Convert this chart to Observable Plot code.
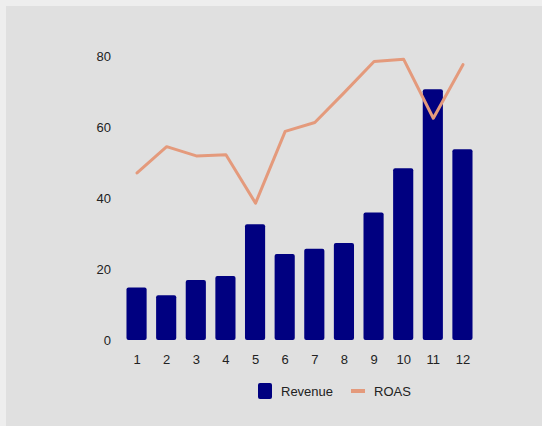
<!DOCTYPE html>
<html>
<head>
<meta charset="utf-8">
<script src="https://cdn.jsdelivr.net/npm/d3@7"></script>
<script src="https://cdn.jsdelivr.net/npm/@observablehq/plot@0.6"></script>
<style>
  html, body { margin: 0; padding: 0; background: #eeeeee; width: 542px; height: 426px; overflow: hidden; }
  #panel { position: absolute; left: 6px; top: 6px; width: 536px; height: 420px; background: #e0e0e0; font-family: "Liberation Sans", Arial, sans-serif; }
  #chart svg { display: block; background: transparent; }
  #legend { display: flex; align-items: center; height: 16px; margin-top: 13px; padding-left: 252px; font-size: 13px; color: #222; }
  .sw-bar { width: 14px; height: 16px; background: #000080; border-radius: 2px; margin-right: 9px; }
  .sw-line { width: 14px; height: 4px; background: #e49a7c; margin-left: 18px; margin-right: 9px; }
</style>
</head>
<body>
<div id="panel">
  <div id="chart"></div>
  <div id="legend">
    <div class="sw-bar"></div><span>Revenue</span>
    <div class="sw-line"></div><span>ROAS</span>
  </div>
</div>
<script>
const months = [1, 2, 3, 4, 5, 6, 7, 8, 9, 10, 11, 12];
const revenue = [14.8, 12.6, 16.9, 18.0, 32.6, 24.2, 25.7, 27.3, 35.9, 48.4, 70.6, 53.7];
const roas = [47.2, 54.6, 52.0, 52.3, 38.7, 58.9, 61.4, 69.9, 78.6, 79.2, 62.6, 77.7];
const yTicks = [0, 20, 40, 60, 80];

const data = months.map((m, i) => ({month: m, revenue: revenue[i], roas: roas[i]}));

const chart = Plot.plot({
  width: 536,
  height: 364,
  marginLeft: 111,
  marginRight: 60,
  marginTop: 50,
  marginBottom: 30,
  style: {background: "transparent", fontFamily: "'Liberation Sans', Arial, sans-serif", fontSize: "13px", color: "#222"},
  x: {type: "band", domain: months, padding: 0.32, round: false, label: null},
  y: {domain: [0, 80], label: null},
  marks: [
    Plot.axisY({ticks: yTicks, tickSize: 0, tickPadding: 6.5, label: null, fontSize: 13}),
    Plot.axisX({tickSize: 0, tickPadding: 14, label: null, fontSize: 13}),
    Plot.barY(data, {x: "month", y: "revenue", fill: "#000080", rx: 2}),
    Plot.line(data, {x: "month", y: "roas", stroke: "#e49a7c", strokeWidth: 3, curve: "linear"})
  ]
});
document.getElementById("chart").appendChild(chart);
</script>
</body>
</html>
